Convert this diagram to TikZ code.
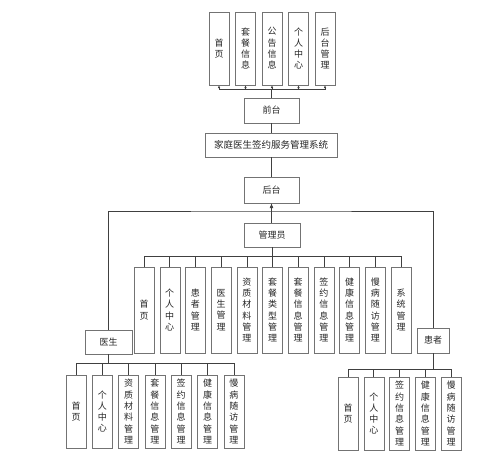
\documentclass[tikz,border=0pt]{standalone}
\usepackage{fontspec}
\newfontfamily\cjk{Noto Sans CJK SC}
\usetikzlibrary{arrows.meta}

\tikzset{
  box/.style={draw=black!55, fill=white, inner sep=0pt, align=center,
    font=\cjk\fontsize{9}{11.3}\selectfont, text=black!85},
  colbox/.style={box, minimum width=20pt},
  rowbox/.style={box, minimum height=25pt},
  link/.style={draw=black!75, line width=0.6pt},
  uptip/.style={-{Latex[length=3pt,width=2.6pt]}},
}

\begin{document}
\begin{tikzpicture}[x=1pt, y=-1pt]
\useasboundingbox (0,0) rectangle (500,454);

% Front end and system
\node[rowbox, minimum width=55pt] (qt) at (271.5, 110.5) {前台};
\node[rowbox, minimum width=132pt, minimum height=24pt, font=\cjk\fontsize{9.5}{11}\selectfont] (sys) at (271, 145) {家庭医生签约服务管理系统};
\node[rowbox, minimum width=55pt, minimum height=26pt] (ht) at (271.5, 190) {后台};
\node[rowbox, minimum width=56pt, minimum height=24pt] (adm) at (272, 235) {管理员};
\node[rowbox, minimum width=47pt, minimum height=24pt] (ys) at (108.5, 342) {医生};
\node[rowbox, minimum width=32pt, minimum height=25pt] (hz) at (433, 340.5) {患者};

% Front end modules
\foreach \txt [count=\i from 0] in {{首\\页}, {套\\餐\\信\\息}, {公\\告\\信\\息}, {个\\人\\中\\心}, {后\\台\\管\\理}} {
  \node[colbox, minimum height=73pt] (t\i) at (219+\i*26.5, 48.5) {\txt};
  \draw[link, uptip] (qt.north) |- ([yshift=-4pt]t\i.south) -- (t\i.south);
}

% Admin modules
\foreach \txt [count=\i from 0] in {{首\\页}, {个\\人\\中\\心}, {患\\者\\管\\理}, {医\\生\\管\\理}, {资\\质\\材\\料\\管\\理}, {套\\餐\\类\\型\\管\\理}, {套\\餐\\信\\息\\管\\理}, {签\\约\\信\\息\\管\\理}, {健\\康\\信\\息\\管\\理}, {慢\\病\\随\\访\\管\\理}, {系\\统\\管\\理}} {
  \node[colbox, minimum height=86pt] (a\i) at (144+\i*25.7, 310) {\txt};
  \draw[link] (adm.south) |- ([yshift=11pt]a\i.north) -- (a\i.north);
}

% Doctor modules
\foreach \txt [count=\i from 0] in {{首\\页}, {个\\人\\中\\心}, {资\\质\\材\\料\\管\\理}, {套\\餐\\信\\息\\管\\理}, {签\\约\\信\\息\\管\\理}, {健\\康\\信\\息\\管\\理}, {慢\\病\\随\\访\\管\\理}} {
  \node[colbox, minimum height=73pt] (d\i) at (76+\i*26.3, 411.5) {\txt};
  \draw[link] (ys.south) |- ([yshift=12pt]d\i.north) -- (d\i.north);
}

% Patient modules
\foreach \txt [count=\i from 0] in {{首\\页}, {个\\人\\中\\心}, {签\\约\\信\\息\\管\\理}, {健\\康\\信\\息\\管\\理}, {慢\\病\\随\\访\\管\\理}} {
  \node[colbox, minimum height=73pt] (p\i) at (348+\i*25.75, 413.5) {\txt};
  \draw[link] (hz.south) |- ([yshift=8pt]p\i.north) -- (p\i.north);
}

% Main links
\coordinate (fork) at (271.5, 211);
\draw[link] (qt.south) -- (sys.north -| qt.south);
\draw[link] (sys.south -| ht.north) -- (ht.north);
\draw[link, -{Latex[length=5pt,width=4pt]}] (adm.north -| ht.south) -- (ht.south);
\draw[link] (ys.north) |- (fork) -| (hz.north);
\end{tikzpicture}
\end{document}
